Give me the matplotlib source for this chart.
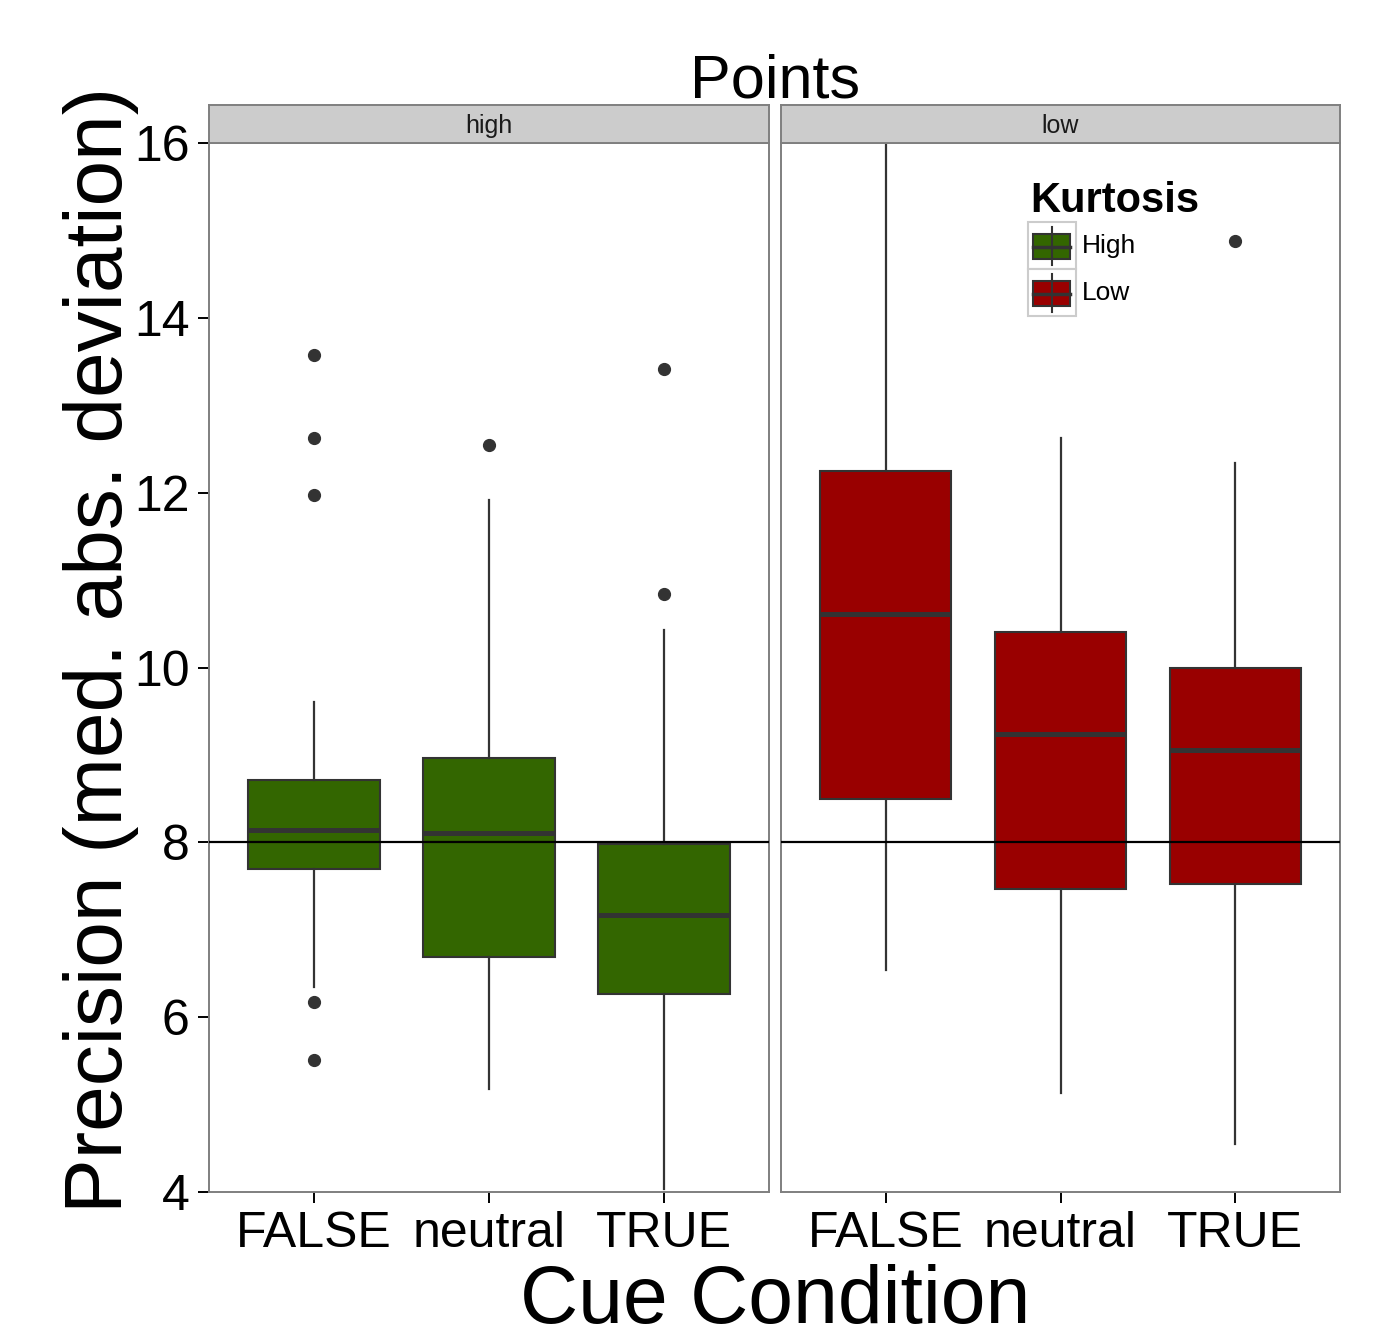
import numpy as np
import matplotlib
matplotlib.use("Agg")
import matplotlib.pyplot as plt
from matplotlib.patches import Rectangle
from matplotlib.lines import Line2D

plt.rcParams['font.family'] = ['Liberation Sans', 'DejaVu Sans']

# data
categories = ['FALSE', 'neutral', 'TRUE']
panels = ['high', 'low']

high_q1 = [7.70, 6.69, 6.27]
high_med = [8.14, 8.11, 7.17]
high_q3 = [8.71, 8.96, 7.98]
high_lo = [6.34, 5.18, 4.03]
high_hi = [9.60, 11.92, 10.43]
high_out = [[13.58, 12.62, 11.97, 6.17, 5.51], [12.55], [13.42, 10.84]]

low_q1 = [8.50, 7.47, 7.52]
low_med = [10.61, 9.24, 9.06]
low_q3 = [12.25, 10.41, 10.00]
low_lo = [6.54, 5.13, 4.55]
low_hi = [16.4, 12.62, 12.34]
low_out = [[], [], [14.88]]

ref_line = 8
colors = {'high': '#336600', 'low': '#990000'}
legend_labels = ['High', 'Low']

W, H = 1373, 1341
fig = plt.figure(figsize=(W / 100, H / 100), dpi=100)

def fx(px):
    return px / W

def fy(py):
    return 1 - py / H

edge = '#333333'
panel_bottom, panel_top = 1192, 143
strip_top = 105
lefts = [(209, 560), (781, 559)]

stats_all = {
    'high': (high_q1, high_med, high_q3, high_lo, high_hi, high_out),
    'low': (low_q1, low_med, low_q3, low_lo, low_hi, low_out),
}

for i, name in enumerate(panels):
    x0, w = lefts[i]
    ax = fig.add_axes([fx(x0), fy(panel_bottom), w / W, (panel_bottom - panel_top) / H])
    q1, med, q3, lo, hi, out = stats_all[name]
    stats = []
    for j in range(len(categories)):
        stats.append(dict(q1=q1[j], med=med[j], q3=q3[j], whislo=lo[j],
                          whishi=hi[j], fliers=out[j], label=categories[j]))
    ax.bxp(stats, positions=[1, 2, 3], widths=0.75, patch_artist=True, showcaps=False,
           boxprops=dict(facecolor=colors[name], edgecolor=edge, linewidth=1.5),
           medianprops=dict(color=edge, linewidth=3.6),
           whiskerprops=dict(color=edge, linewidth=1.6),
           flierprops=dict(marker='o', markerfacecolor=edge, markeredgecolor=edge,
                           markersize=8.5))
    ax.axhline(ref_line, color='black', linewidth=1.6, zorder=5)
    ax.set_xlim(0.4, 3.6)
    ax.set_ylim(4, 16)
    ax.set_yticks([4, 6, 8, 10, 12, 14, 16])
    for s in ax.spines.values():
        s.set_color('#7f7f7f')
        s.set_linewidth(1.4)
    ax.tick_params(axis='x', labelsize=36, length=8, width=1.4, color='black', pad=6)
    if i == 0:
        ax.tick_params(axis='y', labelsize=36, length=8, width=1.4, color='black', pad=6)
    else:
        ax.tick_params(axis='y', left=False, labelleft=False)

    # facet strip
    sax = fig.add_axes([fx(x0), fy(panel_top), w / W, (panel_top - strip_top) / H])
    sax.set_facecolor('#cccccc')
    sax.set_xticks([])
    sax.set_yticks([])
    for s in sax.spines.values():
        s.set_color('#7f7f7f')
        s.set_linewidth(1.4)
    sax.text(0.5, 0.45, name, ha='center', va='center', fontsize=18,
             transform=sax.transAxes, color='#1a1a1a')

# titles
fig.text(fx(775), fy(97), 'Points', ha='center', va='baseline', fontsize=44)
fig.text(fx(775), fy(1323), 'Cue Condition', ha='center', va='baseline', fontsize=58)
fig.text(fx(101), fy(650), 'Precision (med. abs. deviation)', ha='center', va='center',
         rotation=90, fontsize=59)

# legend inside the right panel
fig.text(fx(1030), fy(212), 'Kurtosis', ha='left', va='baseline', fontsize=30,
         fontweight='bold')
for k, (lab, key) in enumerate(zip(legend_labels, panels)):
    top = 222 + k * 47
    fig.patches.append(Rectangle((fx(1028), fy(top + 47)), 48 / W, 47 / H,
                                 transform=fig.transFigure, facecolor='white',
                                 edgecolor='#cccccc', linewidth=1.5))
    cx = 1052
    fig.lines.append(Line2D([fx(cx), fx(cx)], [fy(top + 5), fy(top + 43)],
                            transform=fig.transFigure, color=edge, linewidth=1.5))
    fig.patches.append(Rectangle((fx(1033), fy(top + 37)), 37 / W, 25 / H,
                                 transform=fig.transFigure, facecolor=colors[key],
                                 edgecolor=edge, linewidth=1.5))
    fig.lines.append(Line2D([fx(1033), fx(1070)], [fy(top + 24.5), fy(top + 24.5)],
                            transform=fig.transFigure, color=edge, linewidth=2.5))
    fig.text(fx(1082), fy(top + 24), lab, ha='left', va='center', fontsize=19)

fig.savefig('out.png', dpi=100)
